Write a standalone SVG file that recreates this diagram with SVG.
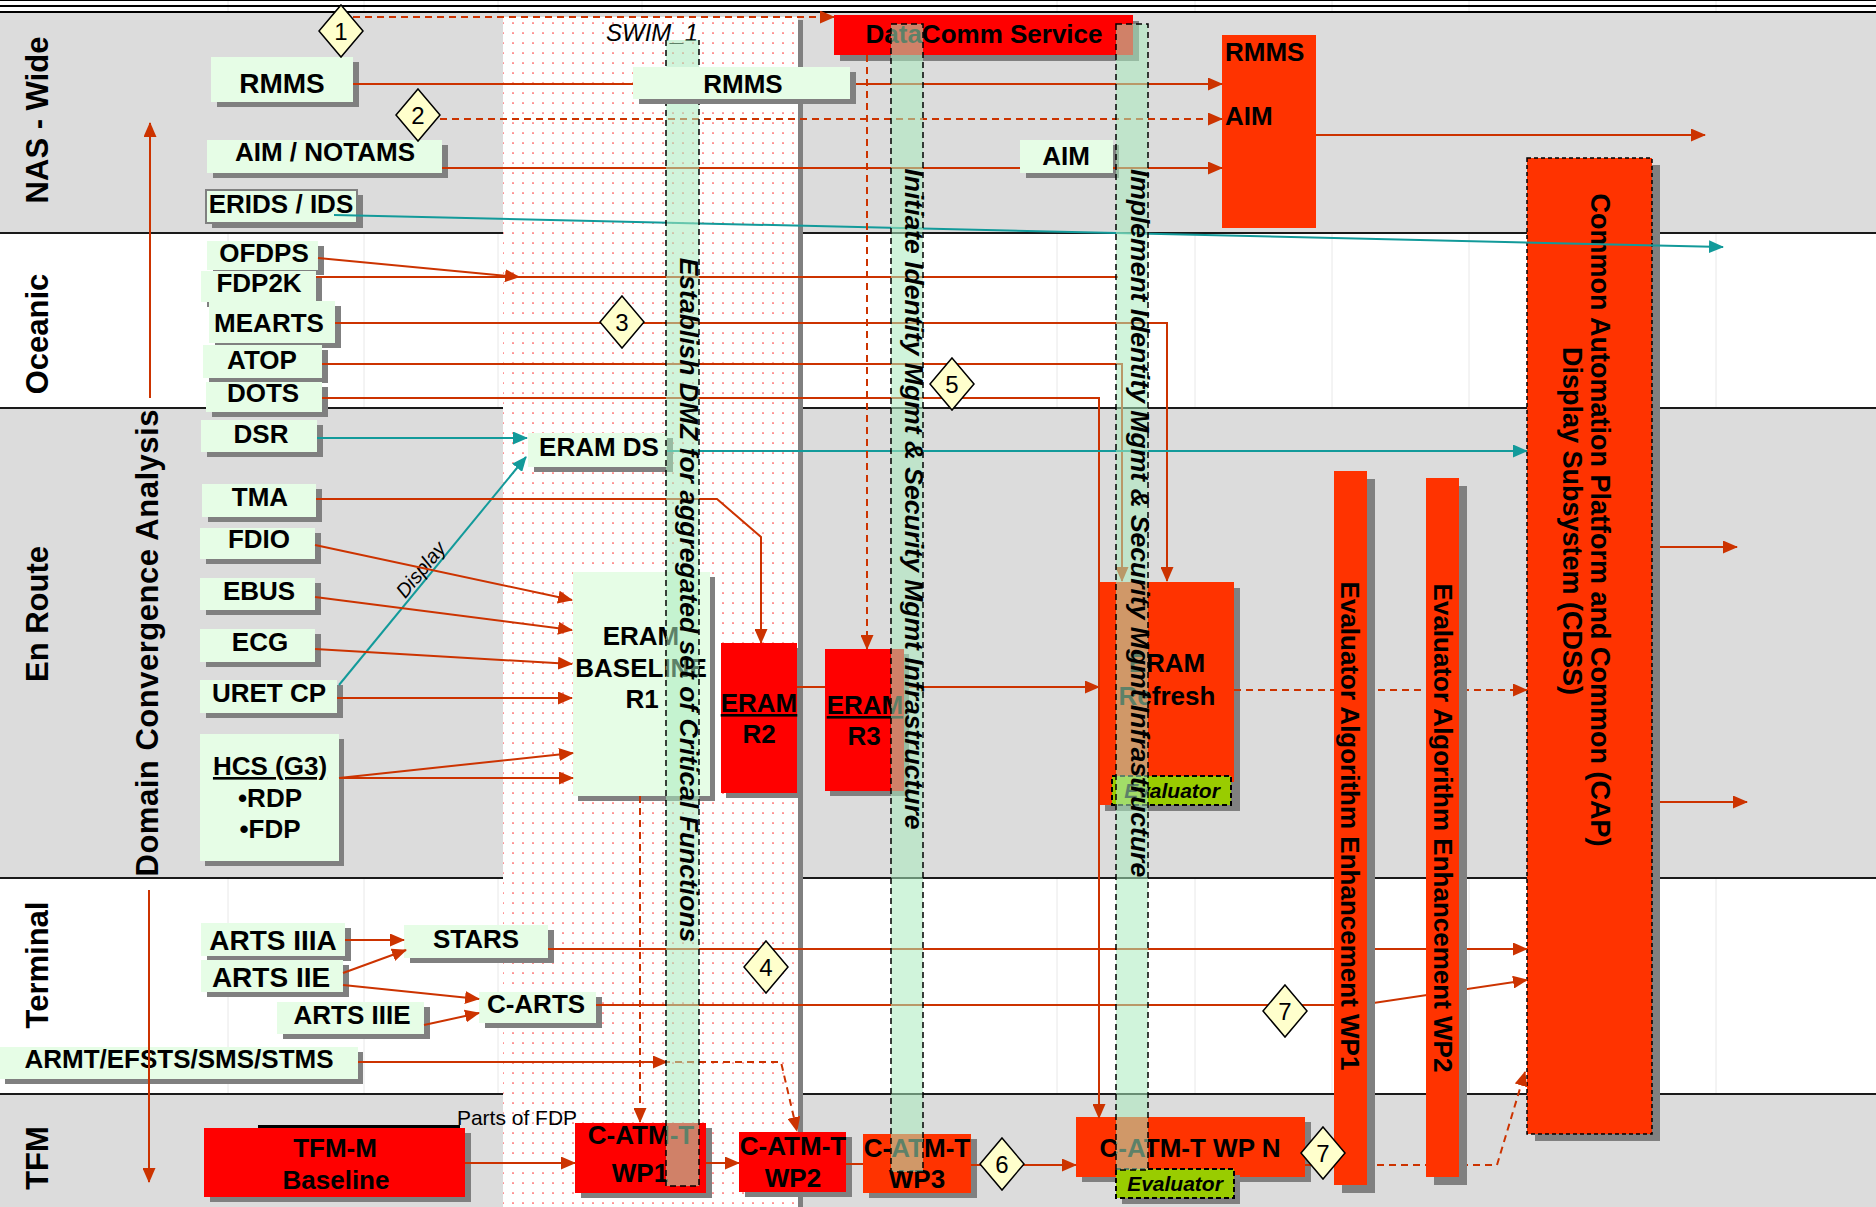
<svg xmlns="http://www.w3.org/2000/svg" width="1876" height="1207" viewBox="0 0 1876 1207">
<defs>
<style>
.t{font-family:"Liberation Sans",Arial,sans-serif;font-weight:bold;font-size:26px;text-anchor:middle;fill:#000}
.lane{font-size:31px}
.n{fill:#e6fde6}
.sh{fill:#808080}
.r{fill:#ff0000}
.o{fill:#ff3300}
.c{fill:none;stroke:#cc3300;stroke-width:2}
.tc{fill:none;stroke:#129a9a;stroke-width:2}
.d{stroke-dasharray:7 5}
.dm{fill:#ffffcc;stroke:#000;stroke-width:1.5}
.dt{font-family:"Liberation Sans",Arial,sans-serif;font-size:24px;text-anchor:middle;fill:#000}
.band{fill:rgb(170,235,190);opacity:.55}
.bb{fill:none;stroke:#000;stroke-width:1.5;stroke-dasharray:6 4}
.ev{fill:#99cc00;stroke:#000;stroke-width:2;stroke-dasharray:5 3}
.bt{font-style:italic;font-size:26.5px}
.grid{stroke:#e8e8e8;stroke-width:1}
.sep{stroke:#1a1a1a;stroke-width:2}
</style>
<marker id="ar" viewBox="0 0 15 13" refX="14" refY="6.5" markerWidth="15" markerHeight="13" markerUnits="userSpaceOnUse" orient="auto"><path d="M0,0L15,6.5L0,13Z" fill="#cc3300"/></marker>
<marker id="at" viewBox="0 0 15 13" refX="14" refY="6.5" markerWidth="15" markerHeight="13" markerUnits="userSpaceOnUse" orient="auto"><path d="M0,0L15,6.5L0,13Z" fill="#129a9a"/></marker>
<pattern id="dots" width="10" height="10" patternUnits="userSpaceOnUse"><rect width="10" height="10" fill="#fff"/><circle cx="3" cy="3" r="0.85" fill="#ff3b3b"/></pattern>
<path id="dia" d="M0,-26L22,0L0,26L-22,0Z"/>
</defs>

<g id="background">
<rect x="0" y="0" width="1876" height="1207" fill="#fff"/>
<g class="grid">
<line x1="228" y1="0" x2="228" y2="1207"/><line x1="364" y1="0" x2="364" y2="1207"/><line x1="498" y1="0" x2="498" y2="1207"/><line x1="642" y1="0" x2="642" y2="1207"/><line x1="1057" y1="0" x2="1057" y2="1207"/><line x1="1195" y1="0" x2="1195" y2="1207"/><line x1="1332" y1="0" x2="1332" y2="1207"/><line x1="1469" y1="0" x2="1469" y2="1207"/><line x1="1716" y1="0" x2="1716" y2="1207"/>
</g>
<rect x="0" y="13" width="1876" height="220" fill="#dcdcdc"/>
<rect x="0" y="408" width="1876" height="470" fill="#dcdcdc"/>
<rect x="0" y="1094" width="1876" height="113" fill="#dcdcdc"/>
<line class="sep" x1="0" y1="233" x2="1876" y2="233"/>
<line class="sep" x1="0" y1="408" x2="1876" y2="408"/>
<line class="sep" x1="0" y1="878" x2="1876" y2="878"/>
<line class="sep" x1="0" y1="1094" x2="1876" y2="1094"/>
<line x1="0" y1="0.5" x2="1876" y2="0.5" stroke="#000" stroke-width="1"/>
<line x1="0" y1="6" x2="1876" y2="6" stroke="#000" stroke-width="2"/>
<line x1="0" y1="12" x2="1876" y2="12" stroke="#000" stroke-width="2"/>
<rect x="503" y="17" width="295" height="1190" fill="url(#dots)"/>
<rect x="798" y="20" width="5" height="1187" fill="#808080"/>
<text class="t" style="font-weight:normal;font-style:italic;font-size:24px" x="652" y="41">SWIM_1</text>
</g>

<g id="lane-labels">
<text class="t lane" transform="translate(48,120) rotate(-90)">NAS - Wide</text>
<text class="t lane" transform="translate(48,334) rotate(-90)">Oceanic</text>
<text class="t lane" transform="translate(48,614) rotate(-90)">En Route</text>
<text class="t lane" transform="translate(48,965) rotate(-90)">Terminal</text>
<text class="t lane" transform="translate(48,1158) rotate(-90)">TFM</text>
<text class="t lane" transform="translate(158,643) rotate(-90)" textLength="467" lengthAdjust="spacing">Domain Convergence Analysis</text>
</g>

<g id="nodes">
<g id="n-rmms"><rect class="sh" x="217" y="62" width="142" height="45"/><rect class="n" x="211" y="57" width="142" height="45"/><text class="t" style="font-size:28px" x="282" y="93">RMMS</text></g>
<g id="n-aimnotams"><rect class="sh" x="213" y="145" width="235" height="33"/><rect class="n" x="207" y="140" width="235" height="33"/><text class="t" x="325" y="161">AIM / NOTAMS</text></g>
<g id="n-aim"><rect class="sh" x="1026" y="145" width="93" height="33"/><rect class="n" x="1020" y="140" width="93" height="33"/><text class="t" x="1066" y="165">AIM</text></g>
<g id="n-erids"><rect class="sh" x="212" y="195" width="151" height="33"/><rect class="n" x="206" y="190" width="151" height="33" stroke="#808080" stroke-width="2"/><text class="t" x="281" y="213">ERIDS / IDS</text></g>
<g id="n-ofdps"><rect class="sh" x="213" y="246" width="111" height="29"/><rect class="n" x="207" y="241" width="111" height="29"/><text class="t" x="264" y="262">OFDPS</text></g>
<g id="n-fdp2k"><rect class="sh" x="207" y="276" width="115" height="31"/><rect class="n" x="201" y="271" width="115" height="31"/><text class="t" x="259" y="292">FDP2K</text></g>
<g id="n-mearts"><rect class="sh" x="215" y="306" width="126" height="42"/><rect class="n" x="209" y="301" width="126" height="42"/><text class="t" x="269" y="332">MEARTS</text></g>
<g id="n-atop"><rect class="sh" x="209" y="350" width="119" height="33"/><rect class="n" x="203" y="345" width="119" height="33"/><text class="t" x="262" y="369">ATOP</text></g>
<g id="n-dots"><rect class="sh" x="212" y="387" width="116" height="30"/><rect class="n" x="206" y="382" width="116" height="30"/><text class="t" x="263" y="402">DOTS</text></g>
<g id="n-dsr"><rect class="sh" x="207" y="425" width="116" height="32"/><rect class="n" x="201" y="420" width="116" height="32"/><text class="t" x="261" y="443">DSR</text></g>
<g id="n-eramds"><rect class="sh" x="534" y="438" width="139" height="34"/><rect class="n" x="528" y="433" width="139" height="34"/><text class="t" x="599" y="456">ERAM DS</text></g>
<g id="n-tma"><rect class="sh" x="208" y="489" width="114" height="33"/><rect class="n" x="202" y="484" width="114" height="33"/><text class="t" x="260" y="506">TMA</text></g>
<g id="n-fdio"><rect class="sh" x="206" y="533" width="115" height="31"/><rect class="n" x="200" y="528" width="115" height="31"/><text class="t" x="259" y="548">FDIO</text></g>
<g id="n-ebus"><rect class="sh" x="206" y="583" width="115" height="32"/><rect class="n" x="200" y="578" width="115" height="32"/><text class="t" x="259" y="600">EBUS</text></g>
<g id="n-ecg"><rect class="sh" x="206" y="634" width="115" height="33"/><rect class="n" x="200" y="629" width="115" height="33"/><text class="t" x="260" y="651">ECG</text></g>
<g id="n-uretcp"><rect class="sh" x="206" y="685" width="137" height="33"/><rect class="n" x="200" y="680" width="137" height="33"/><text class="t" x="269" y="702">URET CP</text></g>
<g id="n-hcs"><rect class="sh" x="205" y="739" width="139" height="127"/><rect class="n" x="200" y="734" width="139" height="127"/><text class="t" x="270" y="775" style="text-decoration:underline">HCS (G3)</text><text class="t" x="270" y="807">•RDP</text><text class="t" x="270" y="838">•FDP</text></g>
<g id="n-erambase"><rect class="sh" x="578" y="577" width="137" height="224"/><rect class="n" x="573" y="572" width="137" height="224"/><text class="t" x="641" y="645">ERAM</text><text class="t" x="641" y="677">BASELINE</text><text class="t" x="642" y="708">R1</text></g>
<g id="n-eramr2"><rect class="sh" x="726" y="648" width="76" height="150"/><rect class="r" x="721" y="643" width="76" height="150"/><text class="t" x="759" y="712" style="text-decoration:underline">ERAM</text><text class="t" x="759" y="743">R2</text></g>
<g id="n-datacomm"><rect class="sh" x="840" y="21" width="299" height="40"/><rect class="r" x="834" y="15" width="299" height="40"/><text class="t" x="984" y="43">DataComm Service</text></g>
<g id="n-rmmsaim"><rect class="o" x="1222" y="35" width="94" height="193"/><text class="t" style="text-anchor:start" x="1225" y="61">RMMS</text><text class="t" style="text-anchor:start" x="1225" y="125">AIM</text></g>
<g id="n-cap"><rect class="sh" x="1535" y="165" width="125" height="976"/><rect class="o" x="1527" y="158" width="125" height="976" stroke="#000" stroke-width="1.5" stroke-dasharray="4 3"/><text class="t" style="font-size:27px" transform="translate(1591,520) rotate(90)">Common Automation Platform and Common (CAP)</text><text class="t" style="font-size:27px" transform="translate(1563,521) rotate(90)">Display Subsystem (CDSS)</text></g>
<g id="n-eramrefresh"><rect class="sh" x="1105" y="588" width="135" height="223"/><rect class="o" x="1099" y="582" width="135" height="223"/><text class="t" x="1167" y="672">ERAM</text><text class="t" x="1167" y="705">Refresh</text><rect class="sh" x="1118" y="782" width="119" height="29"/><rect class="ev" x="1112" y="776" width="119" height="29"/><text class="t" style="font-style:italic;font-size:21px" x="1172" y="798">Evaluator</text></g>
<g id="n-artsiiia"><rect class="sh" x="207" y="928" width="144" height="33"/><rect class="n" x="201" y="923" width="144" height="33"/><text class="t" style="font-size:28px" x="273" y="950">ARTS IIIA</text></g>
<g id="n-artsiie"><rect class="sh" x="207" y="965" width="142" height="32"/><rect class="n" x="201" y="960" width="142" height="32"/><text class="t" style="font-size:28px" x="271" y="987">ARTS IIE</text></g>
<g id="n-artsiiie"><rect class="sh" x="283" y="1007" width="147" height="32"/><rect class="n" x="277" y="1002" width="147" height="32"/><text class="t" x="352" y="1024">ARTS IIIE</text></g>
<g id="n-stars"><rect class="sh" x="410" y="930" width="144" height="33"/><rect class="n" x="404" y="925" width="144" height="33"/><text class="t" x="476" y="948">STARS</text></g>
<g id="n-carts"><rect class="sh" x="485" y="997" width="117" height="31"/><rect class="n" x="479" y="992" width="117" height="31"/><text class="t" x="536" y="1013">C-ARTS</text></g>
<g id="n-armt"><rect class="sh" x="5" y="1052" width="358" height="32"/><rect class="n" x="0" y="1047" width="358" height="32"/><text class="t" x="179" y="1068">ARMT/EFSTS/SMS/STMS</text></g>
<g id="n-tfmm"><rect x="258" y="1125" width="202" height="3" fill="#000"/><rect class="sh" x="210" y="1133" width="261" height="69"/><rect class="r" x="204" y="1128" width="261" height="69"/><text class="t" x="335" y="1157">TFM-M</text><text class="t" x="336" y="1189">Baseline</text></g>
<g id="n-wp1"><rect class="sh" x="581" y="1128" width="131" height="70"/><rect class="r" x="575" y="1123" width="131" height="70"/><text class="t" x="641" y="1144">C-ATM-T</text><text class="t" x="640" y="1182">WP1</text></g>
<g id="n-wp2"><rect class="sh" x="745" y="1137" width="107" height="60"/><rect class="r" x="739" y="1132" width="107" height="60"/><text class="t" x="793" y="1155">C-ATM-T</text><text class="t" x="793" y="1187">WP2</text></g>
<g id="n-wp3"><rect class="sh" x="869" y="1139" width="108" height="59"/><rect class="o" x="863" y="1134" width="108" height="59"/><text class="t" x="917" y="1157">C-ATM-T</text><text class="t" x="917" y="1188">WP3</text></g>
<g id="n-wpn"><rect class="sh" x="1082" y="1122" width="229" height="60"/><rect class="o" x="1076" y="1117" width="229" height="60"/><text class="t" x="1190" y="1157">C-ATM-T WP N</text><rect class="sh" x="1122" y="1175" width="118" height="29"/><rect class="ev" x="1116" y="1169" width="118" height="29"/><text class="t" style="font-style:italic;font-size:21px" x="1175" y="1191">Evaluator</text></g>
</g>

<g id="connectors">
<line class="c" x1="150" y1="398" x2="150" y2="123" marker-end="url(#ar)"/>
<line class="c" x1="149" y1="890" x2="149" y2="1182" marker-end="url(#ar)"/>
<line class="c d" x1="353" y1="17" x2="834" y2="17" marker-end="url(#ar)"/>
<line class="c" x1="353" y1="84" x2="1222" y2="84" marker-end="url(#ar)"/>
<line class="c d" x1="440" y1="119" x2="1222" y2="119" marker-end="url(#ar)"/>
<line class="c" x1="442" y1="168" x2="1020" y2="168"/>
<line class="c" x1="1113" y1="168" x2="1222" y2="168" marker-end="url(#ar)"/>
<line class="tc" x1="334" y1="215" x2="1723" y2="247" marker-end="url(#at)"/>
<line class="c" x1="1316" y1="135" x2="1705" y2="135" marker-end="url(#ar)"/>
<line class="c" x1="318" y1="258" x2="519" y2="277" marker-end="url(#ar)"/>
<line class="c" x1="316" y1="277" x2="1118" y2="277"/>
<polyline class="c" points="335,323 1167,323 1167,581" marker-end="url(#ar)"/>
<polyline class="c" points="322,364 1122,364 1122,581" marker-end="url(#ar)"/>
<polyline class="c" points="322,398 1099,398 1099,1118" marker-end="url(#ar)"/>
<line class="tc" x1="317" y1="438" x2="527" y2="438" marker-end="url(#at)"/>
<line class="tc" x1="667" y1="451" x2="1527" y2="451" marker-end="url(#at)"/>
<line class="tc" x1="339" y1="685" x2="526" y2="457" marker-end="url(#at)"/>
<text transform="translate(426,574) rotate(-50.6)" style="font-family:'Liberation Sans',Arial,sans-serif;font-style:italic;font-size:20px;text-anchor:middle">Display</text>
<polyline class="c" points="316,499 717,499 761,537 761,643" marker-end="url(#ar)"/>
<line class="c" x1="315" y1="545" x2="572" y2="600" marker-end="url(#ar)"/>
<line class="c" x1="315" y1="597" x2="572" y2="630" marker-end="url(#ar)"/>
<line class="c" x1="315" y1="649" x2="572" y2="664" marker-end="url(#ar)"/>
<line class="c" x1="337" y1="698" x2="572" y2="698" marker-end="url(#ar)"/>
<line class="c" x1="339" y1="778" x2="573" y2="753" marker-end="url(#ar)"/>
<line class="c" x1="339" y1="778" x2="573" y2="778" marker-end="url(#ar)"/>
<line class="c d" x1="867" y1="55" x2="867" y2="649" marker-end="url(#ar)"/>
<line class="c" x1="797" y1="687" x2="1099" y2="687" marker-end="url(#ar)"/>
<line class="c d" x1="1234" y1="690" x2="1527" y2="690" marker-end="url(#ar)"/>
<line class="c" x1="1660" y1="547" x2="1737" y2="547" marker-end="url(#ar)"/>
<line class="c" x1="1660" y1="802" x2="1747" y2="802" marker-end="url(#ar)"/>
<line class="c" x1="345" y1="940" x2="404" y2="940" marker-end="url(#ar)"/>
<line class="c" x1="343" y1="973" x2="406" y2="950" marker-end="url(#ar)"/>
<line class="c" x1="343" y1="985" x2="479" y2="999" marker-end="url(#ar)"/>
<line class="c" x1="424" y1="1025" x2="479" y2="1013" marker-end="url(#ar)"/>
<line class="c" x1="548" y1="949" x2="1527" y2="949" marker-end="url(#ar)"/>
<polyline class="c" points="596,1005 1360,1005 1527,980" marker-end="url(#ar)"/>
<line class="c" x1="358" y1="1062" x2="667" y2="1062" marker-end="url(#ar)"/>
<polyline class="c d" points="603,1062 781,1062 797,1131" marker-end="url(#ar)"/>
<line class="c d" x1="640" y1="796" x2="640" y2="1122" marker-end="url(#ar)"/>
<text style="font-family:'Liberation Sans',Arial,sans-serif;font-size:21px;text-anchor:middle" x="517" y="1125">Parts of FDP</text>
<line class="c" x1="465" y1="1163" x2="575" y2="1163" marker-end="url(#ar)"/>
<line class="c" x1="706" y1="1163" x2="739" y2="1163" marker-end="url(#ar)"/>
<line class="c" x1="846" y1="1164" x2="863" y2="1164"/>
<line class="c" x1="971" y1="1165" x2="1076" y2="1165" marker-end="url(#ar)"/>
<polyline class="c d" points="1305,1165 1497,1165 1525,1072" marker-end="url(#ar)"/>
</g>

<g id="nodes-front">
<g id="n-eramr3"><rect class="sh" x="830" y="654" width="79" height="142"/><rect class="r" x="825" y="649" width="79" height="142"/><text class="t" x="865" y="714" style="text-decoration:underline">ERAM</text><text class="t" x="864" y="745">R3</text></g>
<g id="n-evalwp1"><rect class="sh" x="1342" y="479" width="33" height="714"/><rect class="o" x="1334" y="471" width="33" height="714"/><text class="t" transform="translate(1341,826) rotate(90)">Evaluator Algorithm Enhancement WP1</text></g>
<g id="n-evalwp2"><rect class="sh" x="1434" y="486" width="33" height="699"/><rect class="o" x="1426" y="478" width="33" height="699"/><text class="t" transform="translate(1434,828) rotate(90)">Evaluator Algorithm Enhancement WP2</text></g>
</g>

<g id="milestones">
<g id="m1"><use href="#dia" class="dm" x="341" y="31"/><text class="dt" x="341" y="40">1</text></g>
<g id="m2"><use href="#dia" class="dm" x="418" y="115"/><text class="dt" x="418" y="124">2</text></g>
<g id="m3"><use href="#dia" class="dm" x="622" y="322"/><text class="dt" x="622" y="331">3</text></g>
<g id="m4"><use href="#dia" class="dm" x="766" y="967"/><text class="dt" x="766" y="976">4</text></g>
<g id="m5"><use href="#dia" class="dm" x="952" y="384"/><text class="dt" x="952" y="393">5</text></g>
<g id="m6"><use href="#dia" class="dm" x="1002" y="1164"/><text class="dt" x="1002" y="1173">6</text></g>
<g id="m7a"><use href="#dia" class="dm" x="1285" y="1011"/><text class="dt" x="1285" y="1020">7</text></g>
<g id="m7b"><use href="#dia" class="dm" x="1323" y="1153"/><text class="dt" x="1323" y="1162">7</text></g>
</g>

<g id="bands">
<g id="band-dmz"><rect class="band" x="666" y="40" width="33" height="1146"/><path class="bb" d="M666,40V1186H699V40"/><text class="t bt" transform="translate(680,600) rotate(90)">Establish DMZ for aggregated set of Critical Functions</text></g>
<g id="band-initiate"><rect class="band" x="891" y="24" width="32" height="1148"/><rect class="bb" x="891" y="24" width="32" height="1148"/><text class="t bt" transform="translate(905,499) rotate(90)">Initiate Identity Mgmt &amp; Security Mgmt Infrastructure</text></g>
<g id="band-implement"><rect class="band" x="1116" y="24" width="32" height="1146"/><rect class="bb" x="1116" y="24" width="32" height="1146"/><text class="t bt" transform="translate(1131,523) rotate(90)">Implement Identity Mgmt &amp; Security Mgmt Infrastructure</text></g>
</g>

<g id="n-rmms-swim"><rect class="sh" x="639" y="72" width="217" height="32"/><rect class="n" x="633" y="67" width="217" height="32"/><text class="t" x="743" y="93">RMMS</text></g>
</svg>
